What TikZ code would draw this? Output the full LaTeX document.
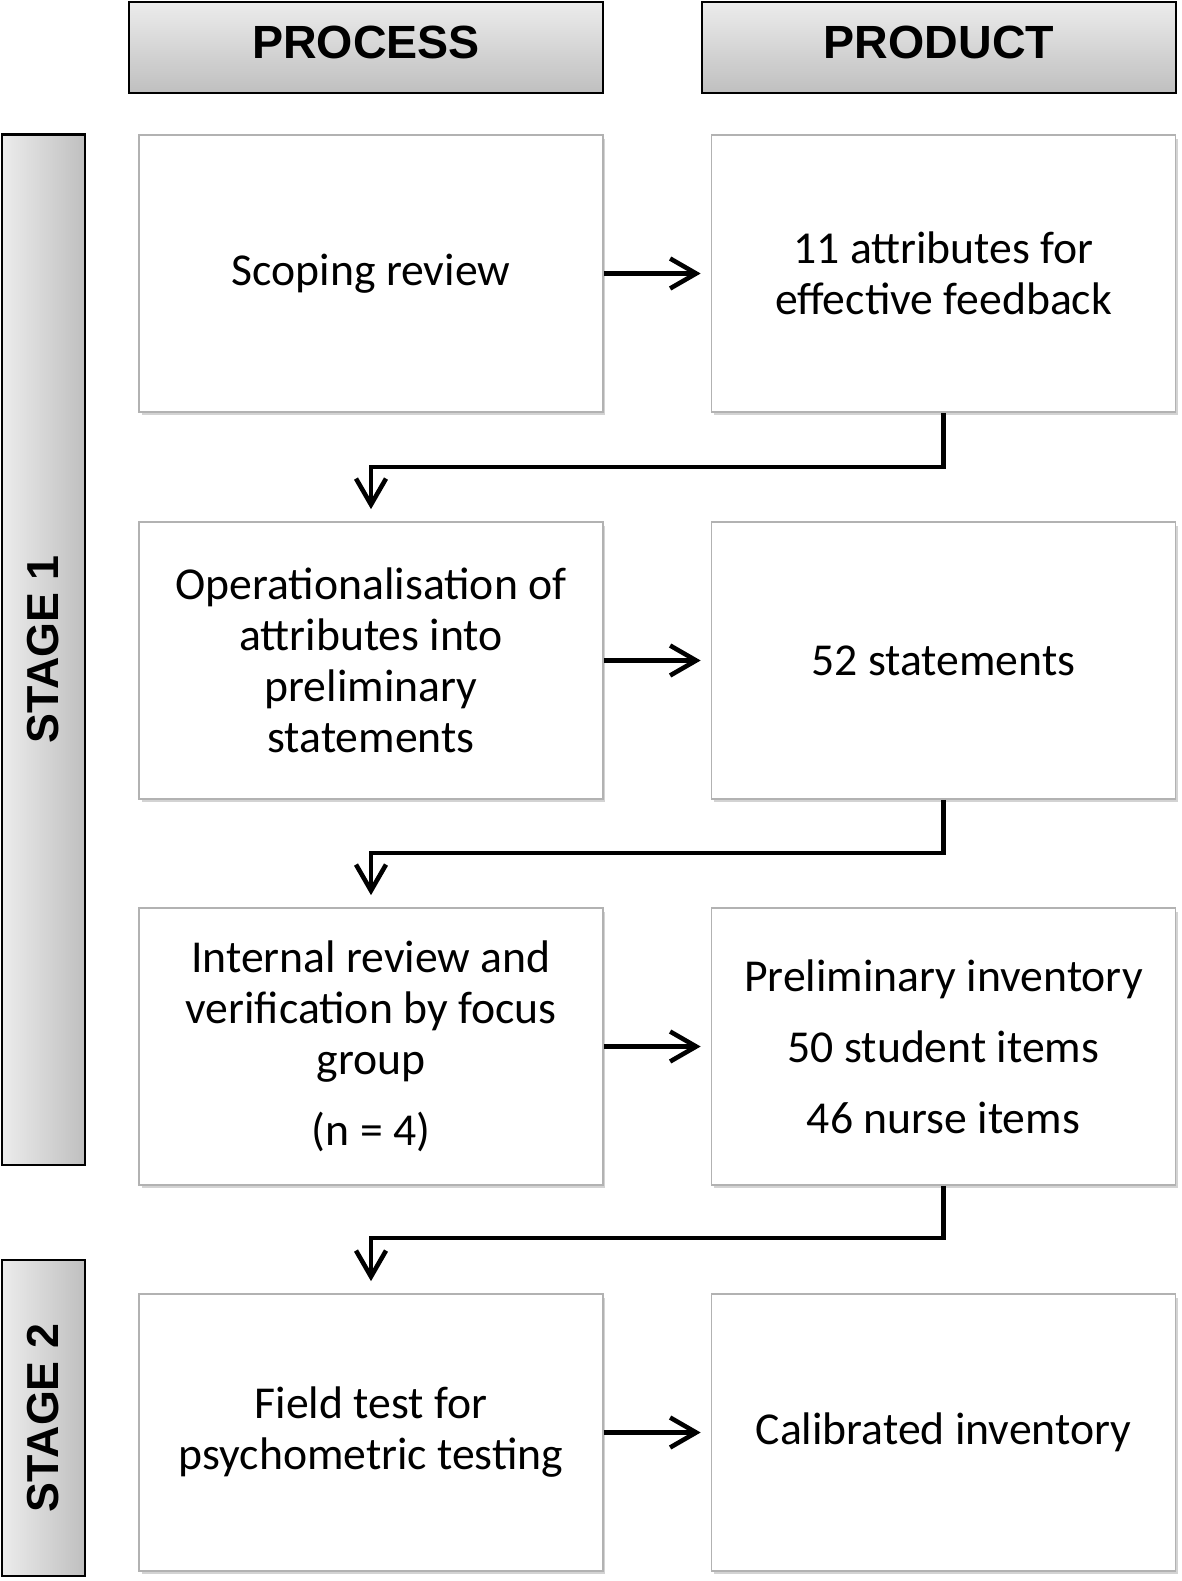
\documentclass[tikz,border=0pt]{standalone}
\usepackage{fontspec}
\setmainfont{Carlito}
\newfontfamily\headfont{Liberation Sans}
\usetikzlibrary{arrows.meta,shadows}

\begin{document}
\begin{tikzpicture}[
                x=0.02cm,
                y=-0.02cm,
                line cap=butt,
                line join=miter,
                >={Straight Barb[length=0.52cm,width=0.6cm,line width=2.6pt]},
                stepbox/.style={draw=gray!60, line width=1pt, fill=white,
                    minimum width=9.28cm, minimum height=5.54cm,
                    align=center, font=\fontsize{26}{29}\selectfont,
                    drop shadow={shadow xshift=0.05cm, shadow yshift=-0.07cm,
                        opacity=0.35, fill=gray}},
                headbox/.style={draw=black, line width=1.6pt,
                    top color=gray!15, bottom color=gray!50,
                    minimum width=9.48cm, minimum height=1.82cm, text depth=0.2cm,
                    font=\headfont\bfseries\fontsize{26.5}{29}\selectfont},
                stagebox/.style={draw=black, line width=1.6pt,
                    left color=gray!15, right color=gray!50,
                    minimum width=1.66cm},
                stagetext/.style={rotate=90,
                    font=\headfont\bfseries\fontsize{25.5}{29}\selectfont},
                arr/.style={->, line width=2.6pt, black}
            ]

            \useasboundingbox (0,0) rectangle (1182,1581);

            % column heads
            \node[headbox] (hproc) at (366,47.5) {PROCESS};
            \node[headbox] (hprod) at (939,47.5) {PRODUCT};

            % stage bars
            \node[stagebox, minimum height=20.62cm] (st1) at (43.5,649.5) {};
            \node[stagetext] (st1text) at (st1.center) {STAGE 1};
            \node[stagebox, minimum height=6.32cm] (st2) at (43.5,1418) {};
            \node[stagetext] (st2text) at (st2.center) {STAGE 2};

            % process column
            \node[stepbox] (proc1) at (371,273.5) {Scoping review};
            \node[stepbox] (proc2) at (371,660.5) {Operationalisation of\\attributes into\\preliminary\\statements};
            \node[stepbox] (proc3) at (371,1046.5) {Internal review and\\verification by focus\\group\\[0.4cm](n = 4)};
            \node[stepbox] (proc4) at (371,1432.5) {Field test for\\psychometric testing};

            % product column
            \node[stepbox] (prod1) at (943.5,273.5) {11 attributes for\\effective feedback};
            \node[stepbox] (prod2) at (943.5,660.5) {52 statements};
            \node[stepbox] (prod3) at (943.5,1046.5) {Preliminary inventory\\[0.4cm]50 student items\\[0.4cm]46 nurse items};
            \node[stepbox] (prod4) at (943.5,1432.5) {Calibrated inventory};

            % elbow points
            \coordinate (k1) at (371,467);
            \coordinate (k2) at (371,853);
            \coordinate (k3) at (371,1238);

            \foreach \i in {1,...,4} {
                \draw[arr, shorten >=0.2cm] (proc\i.east) -- (prod\i.west);
            }

            \foreach \i/\j in {1/2,2/3,3/4} {
                \draw[arr, shorten >=0.24cm] (prod\i.south) |- (k\i) -- (proc\j.north);
            }

        \end{tikzpicture}
\end{document}
